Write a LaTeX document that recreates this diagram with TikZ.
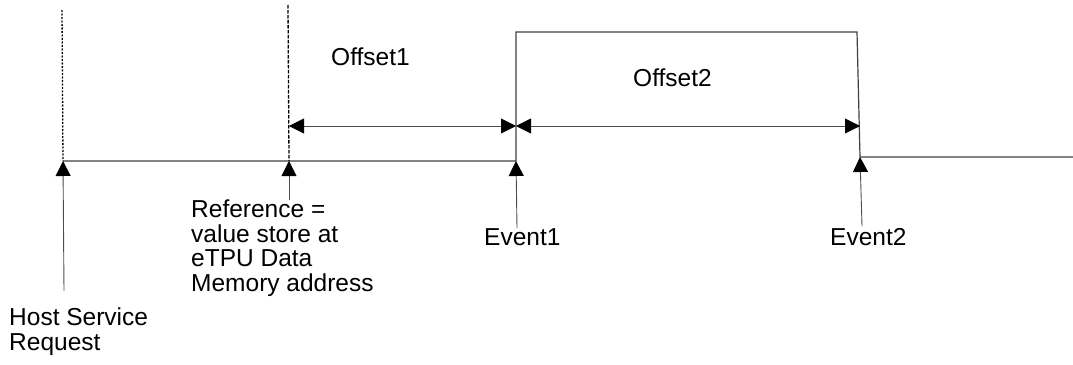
\documentclass[tikz,border=0pt]{standalone}
\usepackage{fontspec}
\setmainfont{Liberation Sans}
\usetikzlibrary{arrows.meta}
\begin{document}
\begin{tikzpicture}[x=1pt,y=-1pt,
  tip/.tip={Triangle[length=15pt,width=15pt,color=black]},
  sig/.style={draw=black!75,line width=1.2pt},
  dotline/.style={draw=black,line width=1.3pt,dash pattern=on 2pt off 1.5pt},
  dashline/.style={draw=black,line width=1.3pt,dash pattern=on 3.5pt off 1.5pt},
  ptr/.style={draw=black!70,line width=0.9pt,-tip},
  dim/.style={draw=black!70,line width=0.9pt,tip-tip},
  lbl/.style={inner sep=0pt,anchor=base west,align=left,font=\fontsize{24.5}{24.5}\selectfont}]
\useasboundingbox (0,0) rectangle (1073,364);
% signal corners
\coordinate (s0) at (63,161);
\coordinate (r0) at (289,161);
\coordinate (e1lo) at (516,161);
\coordinate (e1hi) at (516,32);
\coordinate (e2hi) at (857,32);
\coordinate (e2lo) at (860,157);
\coordinate (send) at (1073,157);
% dotted/dashed tops
\coordinate (d1) at (62,10);
\coordinate (d2) at (288,5);
% dimension points
\coordinate (a1) at (289,126);
\coordinate (a2) at (516,126);
\coordinate (a3) at (860,126);
% arrow tails
\coordinate (ht) at (64,291);
\coordinate (rt) at (289,200);
\coordinate (et1) at (517,228);
\coordinate (et2) at (862,226);
% signal
\draw[sig] (s0) -- (e1lo) -- (e1hi) -- (e2hi) -- (e2lo) -- (send);
\draw[dotline] (d1) -- (s0);
\draw[dashline] (d2) -- (r0);
% dimensions
\draw[dim] (a1) -- (a2);
\draw[dim] (a2) -- (a3);
% pointers
\draw[ptr] (ht) -- (s0);
\draw[ptr] (rt) -- (r0);
\draw[ptr] (et1) -- (e1lo);
\draw[ptr] (et2) -- (e2lo);
% labels
\node[lbl] (off1) at (331,65) {Offset1};
\node[lbl] (off2) at (633,86) {Offset2};
\node[lbl] (ref) at (191,291) {Reference =\\value store at\\eTPU Data\\Memory address};
\node[lbl] (host) at (9,350) {Host Service\\Request};
\node[lbl] (ev1) at (484,245) {Event1};
\node[lbl] (ev2) at (830,245) {Event2};
\end{tikzpicture}
\end{document}
